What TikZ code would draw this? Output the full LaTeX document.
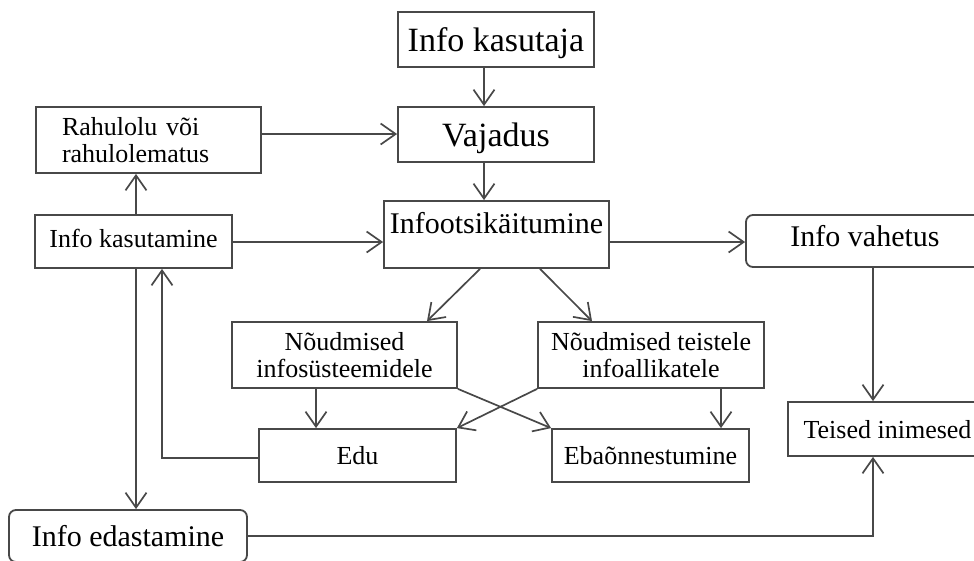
\documentclass[tikz,border=0pt]{standalone}
\usepackage{fontspec}
\setmainfont{Liberation Serif}
\usetikzlibrary{arrows.meta}
\definecolor{ln}{RGB}{72,72,72}
\begin{document}
\begin{tikzpicture}[x=1pt,y=-1pt,
  box/.style={draw=ln, line width=1.8pt, rectangle, inner sep=0pt, text=black},
  big/.style={font=\fontsize{34}{38}\selectfont},
  mid/.style={font=\fontsize{30}{34}\selectfont},
  sml/.style={font=\fontsize{26}{27.5}\selectfont},
  arr/.style={draw=ln, line width=1.7pt, -{Straight Barb[length=15pt,width=21pt]}}]
\clip (0,0) rectangle (974,560);
% nodes
\node[box,big,minimum width=196pt,minimum height=55pt,text depth=0pt] (ik) at (496,39.5) {Info kasutaja};
\node[box,big,minimum width=196pt,minimum height=55pt,text depth=0pt] (vaj) at (496,134.5) {Vajadus};
\node[box,mid,minimum width=225pt,minimum height=67pt,text depth=0pt] (ioo) at (496.5,234.5) {\raisebox{11.5pt}[\height][\depth]{Infootsikäitumine}};
\node[box,mid,rounded corners=7pt,minimum width=238pt,minimum height=52pt,text depth=0pt] (iv) at (865,241) {\raisebox{5pt}[\height][\depth]{Info vahetus}};
\node[box,sml,minimum width=225pt,minimum height=66pt,text width=173pt,align=left] (rah) at (148.5,140) {Rahulolu või\\rahulolematus};
\node[box,sml,minimum width=197pt,minimum height=53pt,text depth=0pt] (ikm) at (133.5,241.5) {\raisebox{3pt}[\height][\depth]{Info kasutamine}};
\node[box,sml,minimum width=225pt,minimum height=66pt,align=center] (nis) at (344.5,355) {Nõudmised\\infosüsteemidele};
\node[box,sml,minimum width=226pt,minimum height=66pt,align=center] (nte) at (651,355) {Nõudmised teistele\\infoallikatele};
\node[box,sml,minimum width=197pt,minimum height=53pt,text depth=0pt] (edu) at (357.5,455.5) {Edu};
\node[box,sml,minimum width=197pt,minimum height=53pt,text depth=0pt] (eba) at (650.5,455.5) {Ebaõnnestumine};
\node[box,sml,minimum width=199pt,minimum height=54pt,text depth=0pt] (tei) at (887.5,429) {Teised inimesed};
\node[box,mid,rounded corners=7pt,minimum width=238pt,minimum height=52pt,text depth=0pt] (ied) at (128,536) {Info edastamine};
% lanes
\coordinate (xA) at (484,0);
\coordinate (xB) at (136,0);
\coordinate (xC) at (162,0);
\coordinate (xD) at (316,0);
\coordinate (xE) at (721,0);
\coordinate (xF) at (873,0);
\coordinate (yA) at (0,134);
\coordinate (yB) at (0,242);
\coordinate (yC) at (0,458);
% connectors
\draw[arr] (ik.south -| xA) -- (vaj.north -| xA);
\draw[arr] (vaj.south -| xA) -- (ioo.north -| xA);
\draw[arr] (rah.east |- yA) -- (vaj.west |- yA);
\draw[arr] (ikm.north -| xB) -- (rah.south -| xB);
\draw[arr] (ikm.east |- yB) -- (ioo.west |- yB);
\draw[arr] (ioo.east |- yB) -- (iv.west |- yB);
\draw[arr] ([xshift=-16.5pt]ioo.south) -- ([xshift=82.5pt]nis.north);
\draw[arr] ([xshift=43.5pt]ioo.south) -- ([xshift=-59pt]nte.north);
\draw[arr] (nis.south -| xD) -- (edu.north -| xD);
\draw[arr] (nte.south -| xE) -- (eba.north -| xE);
\draw[arr] (nis.south east) -- (eba.north west);
\draw[arr] (nte.south west) -- (edu.north east);
\draw[arr] (edu.west |- yC) -- (xC |- yC) -- (ikm.south -| xC);
\draw[arr] (ikm.south -| xB) -- (ied.north -| xB);
\draw[arr] (iv.south -| xF) -- (tei.north -| xF);
\draw[arr] (ied.east) -- (ied.east -| xF) -- (tei.south -| xF);
\end{tikzpicture}
\end{document}
